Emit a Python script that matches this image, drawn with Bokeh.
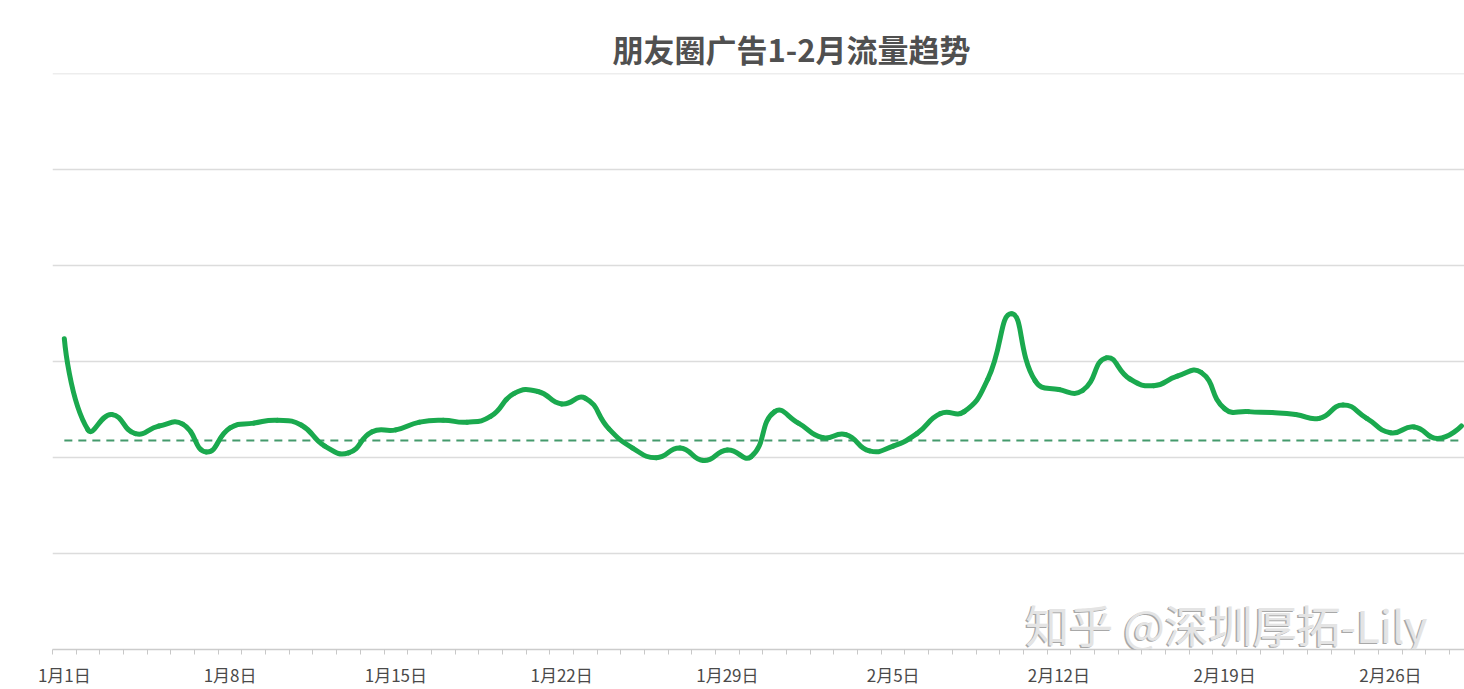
import numpy as np
from bokeh.plotting import figure
from bokeh.models import FixedTicker, Label, Range1d
from bokeh.embed import file_html
from bokeh.resources import INLINE

# ---- data ----
dates = [f"1月{d}日" for d in range(1, 32)] + [f"2月{d}日" for d in range(1, 30)]
traffic = [324, 229, 245, 225, 233, 235, 206, 231, 236, 239,
           234, 212, 205, 227, 229, 237, 239, 237, 243, 267,
           269, 256, 262, 230, 210, 200, 210, 197, 208, 201,
           248, 236, 221, 224, 207, 212, 225, 246, 248, 282,
           350, 280, 271, 270, 304, 282, 275, 285, 289, 251,
           248, 247, 245, 241, 255, 241, 226, 232, 220, 233]
baseline = 218
label_every = 7
title_text = "朋友圈广告1-2月流量趋势"
watermark = "知乎 @深圳厚拓-Lily"

FONT = "Noto Sans CJK SC"
W, H = 1464, 689
ML, MR, MT, MB = 52, 0, 73, 40
X0 = -0.5
X1 = X0 + (W - ML - MR) / 23.68
Y0, Y1 = 0, 600.5

p = figure(width=W, height=H, x_range=Range1d(X0, X1), y_range=Range1d(Y0, Y1),
           output_backend="svg", toolbar_location=None,
           min_border_left=ML, min_border_right=MR, min_border_top=MT, min_border_bottom=MB)
p.background_fill_color = "white"
p.border_fill_color = "white"
p.outline_line_color = None

# title
p.title.text = title_text
p.title.text_font = FONT
p.title.text_font_size = "31px"
p.title.text_font_style = "bold"
p.title.text_color = "#505050"
p.title.align = "left"
p.title.offset = 560
p.title.standoff = 6

# axes / grid
p.yaxis.visible = False
p.ygrid.ticker = FixedTicker(ticks=[0, 100, 200, 300, 400, 500, 600])
p.ygrid.grid_line_color = "#dcdcdc"
p.ygrid.grid_line_width = 1.6
p.xgrid.visible = False

n = len(traffic)
idx = np.arange(n)
major = list(range(0, n, label_every))
p.xaxis.ticker = FixedTicker(ticks=major, minor_ticks=[i - 0.5 for i in range(n + 1)])
p.xaxis.major_label_overrides = {i: dates[i] for i in major}
p.xaxis.major_tick_line_color = None
p.xaxis.major_tick_out = 0
p.xaxis.major_tick_in = 0
p.xaxis.minor_tick_line_color = "#c8c8c8"
p.xaxis.minor_tick_out = 5
p.xaxis.minor_tick_in = 0
p.xaxis.axis_line_color = "#cccccc"
p.xaxis.axis_line_width = 1.5
p.xaxis.major_label_text_font = FONT
p.xaxis.major_label_text_font_size = "17px"
p.xaxis.major_label_text_color = "#4a4a4a"
p.xaxis.major_label_standoff = 7

# dashed reference line
p.line([idx[0], idx[-1]], [baseline, baseline], line_color="#449a6c",
       line_width=2, line_dash="8 6")

# smoothed line (ECharts-style bezier through the data points)
sx = (X1 - X0) / (W - ML - MR)
sy = (Y1 - Y0) / (H - MT - MB)
P = np.column_stack([idx / sx, np.array(traffic, float) / sy])
cp_in = P.copy()
cp_out = P.copy()
for i in range(1, n - 1):
    v = (P[i + 1] - P[i - 1]) * 0.5
    d0 = np.linalg.norm(P[i] - P[i - 1])
    d1 = np.linalg.norm(P[i + 1] - P[i])
    s = d0 + d1
    d0, d1 = d0 / s, d1 / s
    cp_in[i] = P[i] - v * d0
    cp_out[i] = P[i] + v * d1
x0 = P[:-1, 0] * sx; y0 = P[:-1, 1] * sy
x1 = P[1:, 0] * sx; y1 = P[1:, 1] * sy
cx0 = cp_out[:-1, 0] * sx; cy0 = cp_out[:-1, 1] * sy
cx1 = cp_in[1:, 0] * sx; cy1 = cp_in[1:, 1] * sy
p.bezier(x0=x0, y0=y0, x1=x1, y1=y1, cx0=cx0, cy0=cy0, cx1=cx1, cy1=cy1,
         line_color="#1aa94e", line_width=5, line_cap="round")

# watermark
p.add_layout(Label(x=40.58, y=27, text=watermark, text_font=FONT, text_font_size="44px",
                   text_color="#a8a8a8", text_baseline="middle", x_offset=-1.5, y_offset=-1.5))
p.add_layout(Label(x=40.58, y=27, text=watermark, text_font=FONT, text_font_size="44px",
                   text_color="#e4e4e4", text_baseline="middle"))

open("out.html", "w").write(file_html(p, INLINE))
